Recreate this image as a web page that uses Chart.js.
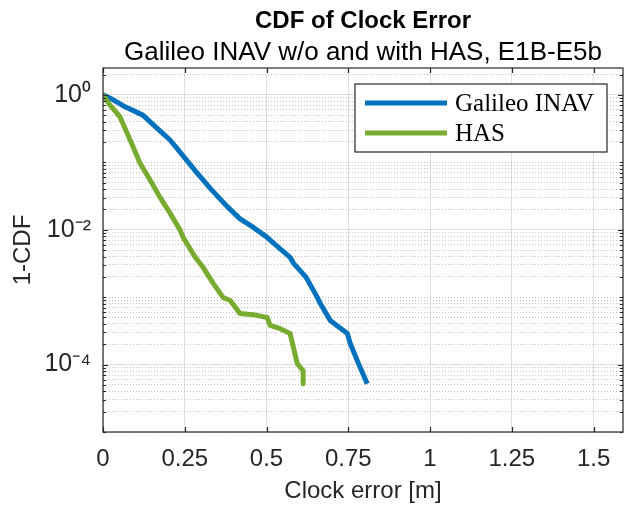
<!DOCTYPE html>
<html>
<head>
<script src="https://cdn.jsdelivr.net/npm/chart.js@4.4.1/dist/chart.umd.min.js"></script>
<style>
  html, body { margin: 0; padding: 0; background: #fff; }
  #wrap { width: 626px; height: 507px; }
</style>
</head>
<body>
<div id="wrap"><canvas id="canvas"></canvas></div>
<script>
// clock error [m] vs 1-CDF
const inavErr = [0, 0.03, 0.061, 0.122, 0.165, 0.205, 0.25, 0.288, 0.33, 0.38, 0.419, 0.46, 0.502, 0.511, 0.54, 0.572, 0.582, 0.62, 0.655, 0.664, 0.695, 0.725, 0.747, 0.756, 0.78, 0.808];
const inavCdf = [1, 0.85, 0.69, 0.5, 0.32, 0.214, 0.116, 0.069, 0.04, 0.022, 0.0145, 0.0108, 0.0077, 0.007, 0.0053, 0.0039, 0.0032, 0.002, 0.001, 0.00081, 0.00045, 0.00035, 0.00029, 0.000205, 0.000107, 0.000052];
const hasErr = [0, 0.021, 0.052, 0.083, 0.113, 0.144, 0.174, 0.205, 0.236, 0.245, 0.282, 0.306, 0.337, 0.367, 0.389, 0.419, 0.459, 0.502, 0.511, 0.542, 0.572, 0.594, 0.612, 0.612];
const hasCdf = [1, 0.71, 0.47, 0.214, 0.0975, 0.0545, 0.0304, 0.0176, 0.0098, 0.0077, 0.0039, 0.00277, 0.0016, 0.00099, 0.00089, 0.00057, 0.00055, 0.0005, 0.00038, 0.00034, 0.00029, 0.000103, 0.000081, 0.000052];

const seriesNames = ['Galileo INAV', 'HAS'];
const seriesColors = ['#0072BD', '#77AC30'];
const xTicks = [0, 0.25, 0.5, 0.75, 1, 1.25, 1.5];
const yLabelExp = [0, -2, -4];
const yLabelText = ['10⁰', '10⁻²', '10⁻⁴'];

const ink = '#262626';
const sans = 'Liberation Sans, Arial, sans-serif';

function labelIndex(v) {
  const l = Math.log10(v);
  const e = Math.round(l);
  if (Math.abs(l - e) > 1e-6) return -1;
  return yLabelExp.indexOf(e);
}

const toPts = (xs, ys) => xs.map((x, i) => ({x: x, y: ys[i]}));

const framePlugin = {
  id: 'frame',
  afterDraw(chart) {
    const {ctx, chartArea: a, scales} = chart;
    ctx.save();
    ctx.strokeStyle = ink;
    ctx.lineWidth = 1.2;
    ctx.beginPath();
    scales.x.ticks.forEach(t => {
      const px = Math.round(scales.x.getPixelForValue(t.value)) + 0.5;
      ctx.moveTo(px, a.bottom); ctx.lineTo(px, a.bottom - 5);
      ctx.moveTo(px, a.top); ctx.lineTo(px, a.top + 5);
    });
    scales.y.ticks.forEach(t => {
      const py = Math.round(scales.y.getPixelForValue(t.value)) + 0.5;
      const len = labelIndex(t.value) >= 0 ? 5 : 3;
      ctx.moveTo(a.left, py); ctx.lineTo(a.left + len, py);
      ctx.moveTo(a.right, py); ctx.lineTo(a.right - len, py);
    });
    ctx.stroke();
    ctx.strokeRect(a.left, a.top, a.right - a.left, a.bottom - a.top);

    // legend box, top right inside the axes
    const w = 252, h = 68;
    const bx = a.right - 16 - w, by = a.top + 16;
    ctx.fillStyle = '#fff';
    ctx.fillRect(bx, by, w, h);
    ctx.lineWidth = 1.2;
    ctx.strokeStyle = ink;
    ctx.strokeRect(bx, by, w, h);
    ctx.font = '25px "Liberation Serif", "Times New Roman", serif';
    ctx.textBaseline = 'middle';
    ctx.fillStyle = '#000';
    chart.data.datasets.forEach((ds, i) => {
      const cy = by + 19 + i * 30;
      ctx.strokeStyle = ds.borderColor;
      ctx.lineWidth = 5;
      ctx.beginPath();
      ctx.moveTo(bx + 10, cy); ctx.lineTo(bx + 92, cy);
      ctx.stroke();
      ctx.fillText(ds.label, bx + 100, cy + 1);
    });
    ctx.restore();
  }
};

new Chart(document.getElementById('canvas').getContext('2d'), {
  type: 'line',
  data: {
    datasets: [
      {label: seriesNames[0], data: toPts(inavErr, inavCdf), borderColor: seriesColors[0], order: 1},
      {label: seriesNames[1], data: toPts(hasErr, hasCdf), borderColor: seriesColors[1], order: 0}
    ]
  },
  options: {
    responsive: true,
    maintainAspectRatio: false,
    animation: false,
    layout: {padding: {top: 0, left: 0, right: 3, bottom: 0}},
    elements: {
      line: {borderWidth: 5, tension: 0, borderJoinStyle: 'round', fill: false},
      point: {radius: 0, hoverRadius: 0}
    },
    plugins: {
      legend: {display: false},
      tooltip: {enabled: false},
      title: {
        display: true,
        fullSize: false,
        text: 'CDF of Clock Error',
        color: '#000',
        font: {family: sans, size: 24, weight: 'bold', lineHeight: 1.2},
        padding: {top: 7, bottom: 0}
      },
      subtitle: {
        display: true,
        fullSize: false,
        text: 'Galileo INAV w/o and with HAS, E1B-E5b',
        color: '#000',
        font: {family: sans, size: 26, lineHeight: 1.2},
        padding: {top: 1, bottom: 0}
      }
    },
    scales: {
      x: {
        type: 'linear',
        min: 0,
        max: 1.59,
        afterBuildTicks: (s) => { s.ticks = xTicks.map(v => ({value: v})); },
        afterFit: (s) => { s.height = 75; },
        ticks: {
          color: ink,
          font: {family: sans, size: 24},
          padding: 13,
          maxRotation: 0,
          autoSkip: false,
          callback: (v) => String(+(+v).toFixed(2))
        },
        grid: {color: '#dedede', lineWidth: 1, drawTicks: false},
        border: {display: false},
        title: {
          display: true,
          text: 'Clock error [m]',
          color: ink,
          font: {family: sans, size: 24, lineHeight: 1.2},
          padding: {top: 0, bottom: 1}
        }
      },
      y: {
        type: 'logarithmic',
        min: 1e-5,
        max: 2.5,
        afterBuildTicks: (s) => {
          const t = [];
          for (let e = -5; e <= 0; e++) {
            for (let m = 1; m <= 9; m++) {
              const v = m * Math.pow(10, e);
              if (v <= 2.5) t.push({value: v});
            }
          }
          s.ticks = t;
        },
        afterFit: (s) => { s.width = 103; },
        ticks: {
          color: ink,
          font: {family: sans, size: 25},
          padding: 12,
          autoSkip: false,
          callback: (v) => {
            const i = labelIndex(v);
            return i >= 0 ? yLabelText[i] : '';
          }
        },
        grid: {
          drawTicks: false,
          lineWidth: 1,
          color: (c) => (c.tick && labelIndex(c.tick.value) >= 0) ? '#dedede' : '#c4c4c4'
        },
        border: {
          display: false,
          dash: (c) => (c.tick && labelIndex(c.tick.value) < 0) ? [1, 2] : []
        },
        title: {
          display: true,
          text: '1-CDF',
          color: ink,
          font: {family: sans, size: 24, lineHeight: 1.2},
          padding: {top: 9, bottom: 0}
        }
      }
    }
  },
  plugins: [framePlugin]
});
</script>
</body>
</html>
